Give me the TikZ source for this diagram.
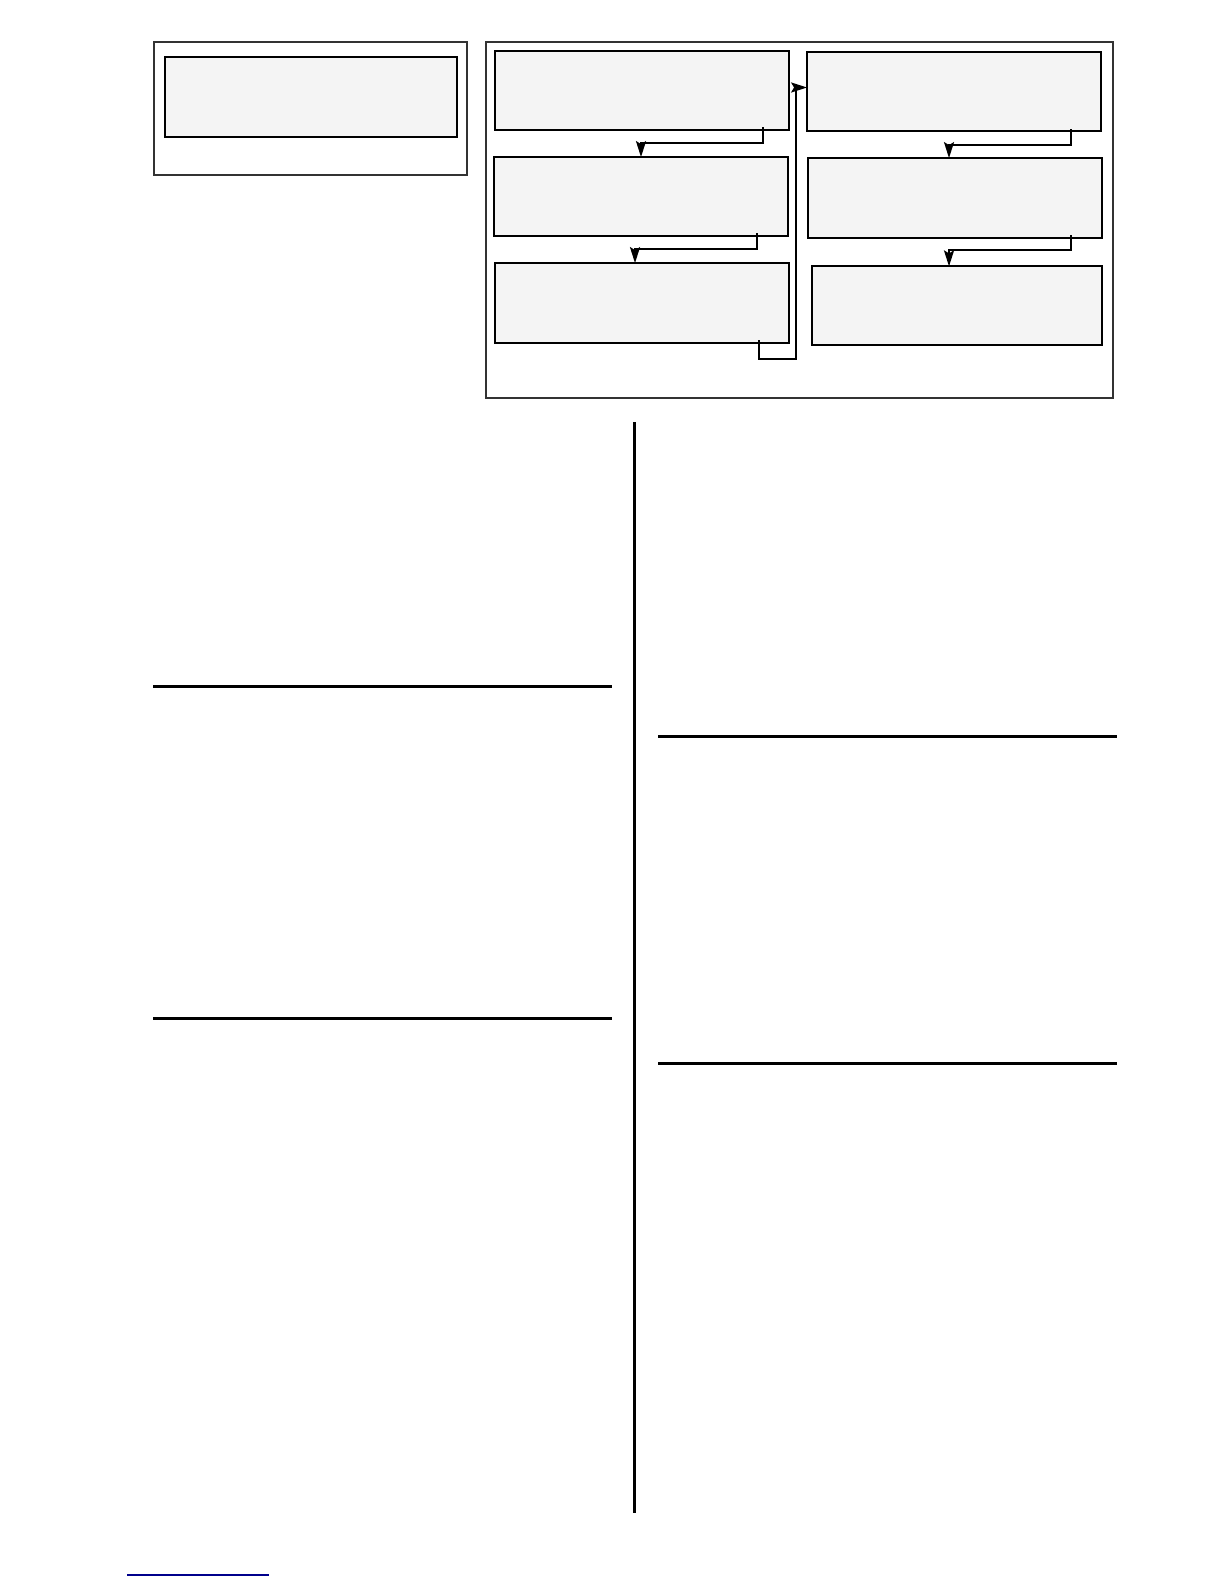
\documentclass[tikz,border=0pt]{standalone}
\usetikzlibrary{arrows.meta}
\definecolor{panelfill}{RGB}{244,244,244}
\definecolor{rulecolor}{RGB}{0,0,140}

\begin{document}
\begin{tikzpicture}[x=0.5pt, y=-0.5pt,
  frame/.style={draw=black!80, line width=1pt, inner sep=0pt},
  panel/.style={draw, fill=panelfill, line width=1.3pt, inner sep=0pt,
    minimum width=147pt, minimum height=39.5pt},
  link/.style={line width=1pt, shorten >=-0.7pt, -{Stealth[length=8pt,width=5pt,inset=1.5pt]}},
  sep/.style={line width=1.5pt}]
  \useasboundingbox (0,0) rectangle (1224,1584);

  % left frame
  \node[frame, minimum width=156.5pt, minimum height=66.5pt] (lframe) at (310.5,108.5) {};
  \node[panel, minimum width=146pt, minimum height=40pt] (lpanel) at (311,97) {};

  % right frame with two columns
  \node[frame, minimum width=313.5pt, minimum height=178pt] (rframe) at (799.5,220) {};
  \node[panel] (a1) at (642,90.5) {};
  \node[panel] (a2) at (641,196.5) {};
  \node[panel, minimum height=40pt] (a3) at (642,303) {};
  \node[panel] (b1) at (954,91.5) {};
  \node[panel, minimum height=40pt] (b2) at (955,198) {};
  \node[panel, line width=1pt, minimum width=145pt] (b3) at (957,305.5) {};

  \draw[link] ([shift={(121,-4)}]a1.south) -- ++(0,16) -| (a2.north);
  \draw[link] ([shift={(116,-4)}]a2.south) -- ++(0,16) -| ([xshift=-3.5pt]a3.north);
  \draw[link] ([shift={(117,-4)}]a3.south) -- ++(0,19) -- ++(37,0) |- ([shift={(0,-4)}]b1.west);
  \draw[link] ([shift={(117,-3)}]b1.south) -- ++(0,16) -| ([xshift=-3pt]b2.north);
  \draw[link] ([shift={(116,-4)}]b2.south) -- ++(0,15) -| ([xshift=-4pt]b3.north);

  % page rules
  \draw[sep] (634,422) -- (634,1513);
  \draw[sep] (153,686) -- (612,686);
  \draw[sep] (153,1018) -- (612,1018);
  \draw[sep] (658,736) -- (1117,736);
  \draw[sep] (658,1063) -- (1117,1063);
  \draw[rulecolor, line width=0.6pt] (127,1575) -- (269,1575);
\end{tikzpicture}
\end{document}
